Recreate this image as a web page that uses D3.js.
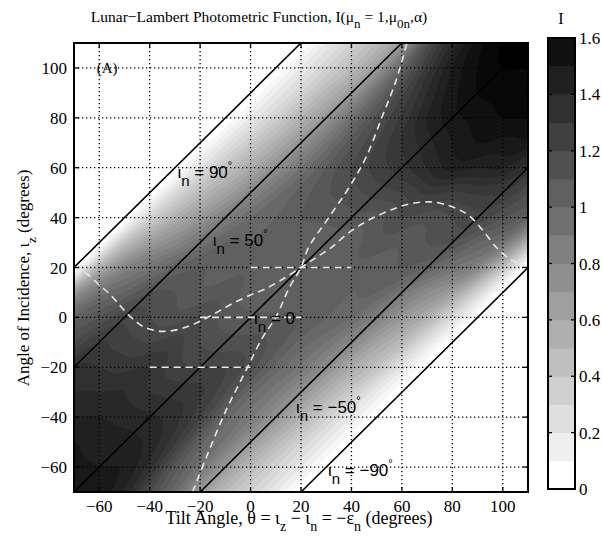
<!DOCTYPE html>
<html><head><meta charset="utf-8">
<script src="https://cdn.jsdelivr.net/npm/d3@7"></script>
<style>
body{margin:0;background:#fff}
svg{display:block}
text{font-family:"Liberation Serif","Times New Roman",serif;fill:#000}
.sans{font-family:"Liberation Sans",Arial,sans-serif}
</style>
</head><body>
<svg id="chart" width="602" height="537"></svg>
<script>
// ---------------- data ----------------
// field grid: iota_n (incidence to the normal) columns, iota_z rows
const iotaN = [-90,-80,-70,-60,-50,-40,-30,-20,-10,0,10,20,30,40,50,60,70,80,90];
const iotaZ = [-70,-60,-50,-40,-30,-20,-10,0,10,20,30,40,50,60,70,80,90,100,110];
const I_nm90 = [0,0,0,0,0,0,0,0,0,0,0,0,0,0,0,0,0,0,0];
const I_nm80 = [0.15,0.15,0.15,0.15,0.15,0.18,0.2,0.25,0.3,0.4,0.5,0.62,0.72,0.78,0.8,0.8,0.8,0.8,0.8];
const I_nm70 = [0.3,0.3,0.3,0.32,0.35,0.4,0.45,0.52,0.62,0.78,0.9,1.0,1.05,1.05,1.05,1.05,1.05,1.05,1.05];
const I_nm60 = [0.45,0.45,0.48,0.5,0.52,0.55,0.6,0.67,0.75,0.9,1.0,1.1,1.15,1.15,1.15,1.15,1.15,1.15,1.15];
const I_nm50 = [0.65,0.65,0.66,0.68,0.7,0.73,0.77,0.82,0.88,1.0,1.1,1.18,1.25,1.3,1.35,1.4,1.45,1.5,1.5];
const I_nm40 = [0.95,0.9,0.88,0.86,0.86,0.88,0.9,0.95,1.0,1.05,1.1,1.15,1.26,1.4,1.48,1.55,1.58,1.6,1.6];
const I_nm30 = [1.15,1.08,1.02,0.98,0.97,0.98,0.98,1.0,1.0,1.02,1.06,1.12,1.24,1.4,1.48,1.55,1.6,1.62,1.62];
const I_nm20 = [1.38,1.32,1.26,1.2,1.15,1.12,1.08,1.05,1.03,1.04,1.08,1.15,1.26,1.42,1.5,1.55,1.6,1.62,1.62];
const I_nm10 = [1.48,1.44,1.38,1.32,1.26,1.2,1.12,1.06,1.02,1.01,1.03,1.08,1.2,1.35,1.45,1.52,1.57,1.6,1.62];
const I_n0   = [1.48,1.45,1.42,1.36,1.28,1.2,1.12,1.06,1.02,1.0,1.02,1.08,1.17,1.28,1.38,1.48,1.55,1.6,1.65];
const I_n10  = [1.48,1.46,1.43,1.38,1.3,1.22,1.15,1.08,1.03,1.01,1.02,1.06,1.13,1.22,1.3,1.4,1.48,1.55,1.6];
const I_n20  = [1.5,1.48,1.45,1.4,1.35,1.3,1.22,1.15,1.08,1.04,1.03,1.05,1.09,1.15,1.2,1.26,1.35,1.45,1.52];
const I_n30  = [1.5,1.5,1.45,1.4,1.35,1.28,1.2,1.12,1.06,1.02,1.0,1.0,1.02,1.05,1.08,1.12,1.18,1.26,1.35];
const I_n40  = [1.45,1.45,1.45,1.4,1.35,1.3,1.22,1.15,1.1,1.05,1.0,0.95,0.92,0.9,0.9,0.92,0.95,1.0,1.1];
const I_n50  = [1.35,1.35,1.35,1.35,1.32,1.3,1.25,1.18,1.1,1.0,0.9,0.83,0.77,0.73,0.7,0.68,0.66,0.65,0.65];
const I_n60  = [1.2,1.2,1.2,1.2,1.2,1.18,1.15,1.1,1.0,0.9,0.77,0.67,0.6,0.55,0.52,0.5,0.48,0.45,0.45];
const I_n70  = [1.05,1.05,1.05,1.05,1.05,1.05,1.05,1.0,0.9,0.78,0.64,0.52,0.45,0.4,0.35,0.32,0.3,0.3,0.3];
const I_n80  = [0.82,0.82,0.82,0.82,0.82,0.82,0.8,0.75,0.64,0.5,0.4,0.3,0.25,0.2,0.18,0.15,0.15,0.15,0.15];
const I_n90  = [0,0,0,0,0,0,0,0,0,0,0,0,0,0,0,0,0,0,0];

const levels = [0,0.1,0.2,0.3,0.4,0.5,0.6,0.7,0.8,0.9,1.0,1.1,1.2,1.3,1.4,1.5,1.6];
const xTicks = [-60,-40,-20,0,20,40,60,80,100];
const yTicks = [-60,-40,-20,0,20,40,60,80,100];
const cbTicks = [0,0.2,0.4,0.6,0.8,1,1.2,1.4,1.6];

// iota_n = constant lines (iota_z = theta + iota_n)
const normalLines = [90,50,0,-50,-90];
const normalLabels = ["90","50","0","\u221250","\u221290"];
// dashed white curves (theta, iota_z)
const wavyCurve = [[-70,20],[-65,17.5],[-60,13],[-56,9.5],[-52,5],[-49,1.6],[-45,-2],[-42,-4],[-38,-5.2],[-35,-5.6],[-31,-5.3],[-27,-4.4],[-22,-2.5],[-17,0],[-12,2.8],[-7,5.6],[0,9],[6,11.5],[13,15.5],[20,20],[26,24],[32,28],[39,34],[46,38.5],[52,41.5],[58,44],[63,45.5],[68,46.2],[73,46.2],[78,45],[83,43],[87,40.5],[92,35],[98,27.5],[104,22.7],[110,20.5]];
const specularCurve = [[-23,-70],[-17.5,-56],[-9.6,-37],[-1.7,-21],[4.8,-8],[10,0],[15.4,12],[20,20],[23,28],[31,40],[39,52],[45.7,64],[52,80],[57.7,95],[62,110]];
// horizontal dashed segments: [theta start, theta end, iota_z]
const horizSegments = [[0,40,20],[-20,20,0],[-40,0,-20]];

// ---------------- layout ----------------
const svg = d3.select("#chart");
const L = 74, R = 528, T = 43, B = 492;
const x = d3.scaleLinear().domain([-70,110]).range([L,R]);
const y = d3.scaleLinear().domain([-70,110]).range([B,T]);
const gray = v => { const g = Math.round(255*(1 - Math.min(v,1.6)/1.6)); return `rgb(${g},${g},${g})`; };

svg.append("defs").append("clipPath").attr("id","plotclip")
  .append("rect").attr("x",L).attr("y",T).attr("width",R-L).attr("height",B-T);

// ---------------- field (smooth cubic resampling of the read grid for drawing) ----------------
const columns = [I_nm90,I_nm80,I_nm70,I_nm60,I_nm50,I_nm40,I_nm30,I_nm20,I_nm10,I_n0,I_n10,I_n20,I_n30,I_n40,I_n50,I_n60,I_n70,I_n80,I_n90];
const nCols = iotaN.length, nRows = iotaZ.length;
const get = (i,j) => columns[Math.max(0,Math.min(nCols-1,i))][Math.max(0,Math.min(nRows-1,j))];
const cr = (p0,p1,p2,p3,t) => 0.5*((2*p1) + (-p0+p2)*t + (2*p0-5*p1+4*p2-p3)*t*t + (-p0+3*p1-3*p2+p3)*t*t*t);
const F = 5;
const NX = (nCols-1)*F+1, NY = (nRows-1)*F+1;
const fine = new Array(NX*NY);
for (let J = 0; J < NY; J++) {
  const j = Math.min(nRows-2, Math.floor(J/F)), ty = J/F - j;
  for (let I = 0; I < NX; I++) {
    const i = Math.min(nCols-2, Math.floor(I/F)), tx = I/F - i;
    const r = [-1,0,1,2].map(dj => cr(get(i-1,j+dj), get(i,j+dj), get(i+1,j+dj), get(i+2,j+dj), tx));
    fine[I + J*NX] = Math.max(0, cr(r[0],r[1],r[2],r[3],ty));
  }
}
const fieldLevels = d3.range(0, 1.6001, 0.05);
const dN = iotaN[1]-iotaN[0], dZ = iotaZ[1]-iotaZ[0];
const contours = d3.contours().size([NX,NY]).thresholds(fieldLevels)(fine);
const proj = d3.geoTransform({point(cx, cy){
  const inn = iotaN[0] + dN*(cx-0.5)/F;
  const iz = iotaZ[0] + dZ*(cy-0.5)/F;
  this.stream.point(x(iz - inn), y(iz));
}});
const path = d3.geoPath(proj);
const field = svg.append("g").attr("clip-path","url(#plotclip)");
field.append("rect").attr("x",L).attr("y",T).attr("width",R-L).attr("height",B-T).attr("fill","#fff");
field.selectAll("path").data(contours).join("path")
  .attr("d", path).attr("fill", d => gray(d.value)).attr("stroke", d => gray(d.value)).attr("stroke-width",0.5);

// ---------------- grid ----------------
const grid = svg.append("g").attr("clip-path","url(#plotclip)");
grid.selectAll(".gx").data(xTicks).join("line")
  .attr("x1",d=>x(d)).attr("x2",d=>x(d)).attr("y1",T).attr("y2",B)
  .attr("stroke","#000").attr("stroke-width",1.3).attr("stroke-dasharray","1.3,2.7");
grid.selectAll(".gy").data(yTicks).join("line")
  .attr("y1",d=>y(d)).attr("y2",d=>y(d)).attr("x1",L).attr("x2",R)
  .attr("stroke","#000").attr("stroke-width",1.3).attr("stroke-dasharray","1.3,2.7");

// ---------------- lines ----------------
const over = svg.append("g").attr("clip-path","url(#plotclip)");
over.selectAll(".nl").data(normalLines).join("line")
  .attr("x1", d => x(Math.max(-70, -70 - d))).attr("y1", d => y(Math.max(-70, -70 - d) + d))
  .attr("x2", d => x(Math.min(110, 110 - d))).attr("y2", d => y(Math.min(110, 110 - d) + d))
  .attr("stroke","#000").attr("stroke-width",1.6);

const line = d3.line().x(d=>x(d[0])).y(d=>y(d[1])).curve(d3.curveCatmullRom);
const dashStyle = s => s.attr("fill","none").attr("stroke","#e6e6e6").attr("stroke-width",1.6).attr("stroke-dasharray","7,5");
over.append("path").attr("d", line(wavyCurve)).call(dashStyle);
over.append("path").attr("d", line(specularCurve)).call(dashStyle);
over.selectAll(".hs").data(horizSegments).join("line")
  .attr("x1",d=>x(d[0])).attr("x2",d=>x(d[1])).attr("y1",d=>y(d[2])).attr("y2",d=>y(d[2]))
  .call(dashStyle);

// ---------------- in-plot labels ----------------
const labelPos = [[-29,56],[-15,28.6],[1.4,-2.6],[18,-38.5],[30.7,-63.6]];
normalLabels.forEach((lab,i) => {
  const t = svg.append("text").attr("class","sans").attr("font-size",17)
    .attr("x", x(labelPos[i][0])).attr("y", y(labelPos[i][1]));
  t.append("tspan").text("\u03b9");
  t.append("tspan").attr("dy",8).attr("font-size",15).text("n");
  t.append("tspan").attr("dy",-8).text(" = " + lab);
  if (i !== 2) t.append("tspan").attr("dy",-9).attr("font-size",11).text("\u00b0");
});
svg.append("text").attr("x", x(-61)).attr("y", y(98)).attr("font-size",15).text("(A)");

// ---------------- axes box & ticks ----------------
const axes = svg.append("g");
axes.append("rect").attr("x",L).attr("y",T).attr("width",R-L).attr("height",B-T)
  .attr("fill","none").attr("stroke","#000").attr("stroke-width",2);
const tk = 5;
xTicks.forEach(v => {
  axes.append("line").attr("x1",x(v)).attr("x2",x(v)).attr("y1",B).attr("y2",B-tk).attr("stroke","#000").attr("stroke-width",1.3);
  axes.append("line").attr("x1",x(v)).attr("x2",x(v)).attr("y1",T).attr("y2",T+tk).attr("stroke","#000").attr("stroke-width",1.3);
  axes.append("text").attr("x",x(v)).attr("y",B+20).attr("text-anchor","middle").attr("font-size",17)
    .text(v < 0 ? "\u2212" + Math.abs(v) : v);
});
yTicks.forEach(v => {
  axes.append("line").attr("y1",y(v)).attr("y2",y(v)).attr("x1",L).attr("x2",L+tk).attr("stroke","#000").attr("stroke-width",1.3);
  axes.append("line").attr("y1",y(v)).attr("y2",y(v)).attr("x1",R).attr("x2",R-tk).attr("stroke","#000").attr("stroke-width",1.3);
  axes.append("text").attr("x",L-7).attr("y",y(v)+6).attr("text-anchor","end").attr("font-size",17)
    .text(v < 0 ? "\u2212" + Math.abs(v) : v);
});

// ---------------- titles ----------------
const title = svg.append("text").attr("x",259).attr("y",22).attr("text-anchor","middle").attr("font-size",15.5);
title.append("tspan").text("Lunar\u2212Lambert Photometric Function, I(\u03bc");
title.append("tspan").attr("dy",6).attr("font-size",13).text("n");
title.append("tspan").attr("dy",-6).text(" = 1,\u03bc");
title.append("tspan").attr("dy",6).attr("font-size",13).text("0n");
title.append("tspan").attr("dy",-6).text(",\u03b1)");

const xl = svg.append("text").attr("x",299).attr("y",524).attr("text-anchor","middle").attr("font-size",18);
xl.append("tspan").text("Tilt Angle, \u03b8 = \u03b9");
xl.append("tspan").attr("dy",7).attr("font-size",14).text("z");
xl.append("tspan").attr("dy",-7).text(" \u2212 \u03b9");
xl.append("tspan").attr("dy",7).attr("font-size",14).text("n");
xl.append("tspan").attr("dy",-7).text(" = \u2212\u03b5");
xl.append("tspan").attr("dy",7).attr("font-size",14).text("n");
xl.append("tspan").attr("dy",-7).text(" (degrees)");

const yl = svg.append("text").attr("transform","translate(29,278) rotate(-90)").attr("text-anchor","middle").attr("font-size",17);
yl.append("tspan").text("Angle of Incidence, \u03b9");
yl.append("tspan").attr("dy",7).attr("font-size",13).text("z");
yl.append("tspan").attr("dy",-7).text(" (degrees)");

// ---------------- colorbar ----------------
const cbL = 548, cbR = 575, cbT = 38, cbB = 489;
const cy = d3.scaleLinear().domain([0,1.6]).range([cbB,cbT]);
const cb = svg.append("g");
cb.selectAll("rect.band").data(levels.slice(0,-1)).join("rect")
  .attr("x",cbL).attr("width",cbR-cbL).attr("y",d=>cy(d+0.1)).attr("height",d=>cy(d)-cy(d+0.1)+0.5)
  .attr("fill",d=>gray(d));
cb.append("rect").attr("x",cbL).attr("y",cbT).attr("width",cbR-cbL).attr("height",cbB-cbT)
  .attr("fill","none").attr("stroke","#000").attr("stroke-width",2);
cbTicks.forEach(v => {
  cb.append("line").attr("x1",cbL).attr("x2",cbL+4).attr("y1",cy(v)).attr("y2",cy(v)).attr("stroke","#000").attr("stroke-width",1.3);
  cb.append("line").attr("x1",cbR).attr("x2",cbR-4).attr("y1",cy(v)).attr("y2",cy(v)).attr("stroke","#000").attr("stroke-width",1.3);
  cb.append("text").attr("x",cbR+4).attr("y",cy(v)+6).attr("font-size",17).text(v);
});
svg.append("text").attr("x",561).attr("y",24).attr("text-anchor","middle").attr("font-size",16).text("I");
</script>
</body></html>
